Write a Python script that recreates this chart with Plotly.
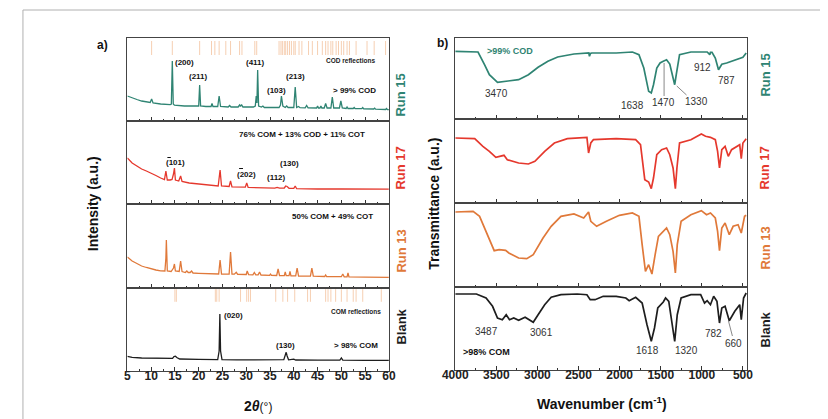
import plotly.graph_objects as go

# ---------------- DATA ----------------
# XRD (left, 2theta in degrees; intensity in arbitrary units)
xrd_run15_x = [5, 6, 7, 8, 9, 9.8, 10.1, 10.4, 12, 14.0, 14.25, 14.45, 14.65, 14.9, 17, 19.8, 20.0, 20.2, 20.4, 21.5,
               22.6, 22.8, 23.0, 24.0, 24.3, 24.6, 26.2, 26.5, 26.8, 28.3, 28.6, 28.8, 29.0, 29.3, 31.5, 31.9, 32.1,
               32.25, 32.4, 32.6, 33.2, 33.5, 33.8, 36.9, 37.2, 37.4, 37.7, 38.2, 38.5, 38.8, 40.0, 40.3, 40.6, 41.0,
               41.3, 42.4, 42.7, 43.0, 44.8, 45.0, 45.2, 45.5, 45.7, 45.9, 46.4, 46.7, 47.0, 47.8, 48.1, 48.4, 49.6,
               49.9, 50.2, 51.0, 51.2, 51.4, 52.5, 52.7, 52.9, 54.3, 54.5, 54.7, 56.8, 57.0, 57.2, 59.3, 59.5, 59.7, 60]
xrd_run15_y = [25, 23, 21.5, 20, 19, 18.5, 22, 18, 17, 16.3, 17, 60, 17, 15.8, 15, 14.7, 15, 36, 15, 14.5,
               14.5, 17.5, 14.5, 14.5, 25, 14.5, 14, 15.5, 14, 14, 16, 14.5, 16.5, 14, 14, 15, 25,
               18, 51, 15, 14, 15, 13.5, 13.5, 16, 25, 15, 13.5, 15, 13.5, 13.5, 34, 13.5, 14.5,
               13.3, 13.2, 15.5, 13.2, 13, 15, 13, 13, 15, 13, 13, 17.5, 13, 13, 24, 13, 13,
               20, 13, 12.5, 14, 12.5, 12.5, 13.5, 12.3, 12.3, 13.5, 12.2, 12, 12.8, 11.8, 11.5, 12.5, 11.3, 11.3]

xrd_run17_x = [5, 5.5, 6, 7, 8, 9, 10, 11, 12, 12.8, 13.1, 13.4, 14.0, 14.4, 14.7, 14.9, 15.1, 15.8, 16.2, 16.5,
               18, 20, 22, 24.1, 24.4, 24.5, 24.8, 26.4, 26.7, 27.0, 29.8, 30.1, 30.4, 33, 36.0, 36.5, 37.0, 38.0,
               38.3, 38.6, 39.0, 40.0, 40.3, 40.6, 43, 45, 50, 55, 60]
xrd_run17_y = [46, 43, 41, 38, 35, 33, 31, 28.5, 26, 24.5, 33, 24, 24, 24.5, 30, 36, 24, 23, 28, 22.5,
               21, 20, 19, 18, 30, 34, 18, 17.5, 23, 17.2, 16.8, 21, 16.6, 16.2, 15.8, 16.5, 15.8, 16,
               18, 17.5, 15.7, 15.6, 18, 15.3, 15, 15, 15, 14.8, 14.8]

xrd_run13_x = [5, 5.5, 6, 7, 8, 9, 10, 11, 12, 12.9, 13.1, 13.2, 13.4, 14.2, 14.7, 14.9, 15.1, 15.9, 16.2, 16.5,
               17.2, 17.5, 17.8, 18.2, 18.5, 18.8, 20, 22, 24.2, 24.5, 24.8, 26.4, 26.7, 27.0, 27.5, 27.9, 28.2,
               30.0, 30.2, 30.5, 31.4, 31.7, 32.0, 32.5, 32.8, 33.1, 34.9, 35.1, 35.3, 36.4, 36.7, 37.0, 38.0,
               38.2, 38.4, 39.0, 39.2, 39.4, 40.4, 40.7, 41.0, 43.5, 43.8, 44.1, 46.5, 46.7, 46.9, 50.0, 50.3,
               50.6, 51.2, 51.4, 51.6, 55, 60]
xrd_run13_y = [31, 28.5, 27, 24.5, 22, 20.5, 19, 18, 17.2, 17, 30, 48, 17, 16.5, 20, 24, 17, 16.5, 27, 16.5,
               15.5, 17, 15.5, 15.5, 17, 15, 14.7, 14.3, 14, 28, 14, 13.8, 36, 13.8, 13.8, 15.7, 13.6,
               13.5, 17, 13.3, 13.2, 15.5, 13.2, 13.2, 16, 13, 12.7, 14, 12.7, 12.5, 19, 12.5, 12.3,
               16, 12.3, 12.3, 16.5, 12.2, 12.2, 20, 12, 11.8, 20, 11.8, 11.5, 13, 11.5, 11.3, 14,
               11.2, 11.2, 15, 11.1, 10.8, 10.6]

xrd_blank_x = [5, 6, 8, 10, 12, 14.5, 14.8, 15.1, 15.4, 16, 20, 24.0, 24.3, 24.45, 24.6, 24.9, 28, 30.1, 30.5, 31,
               31.5, 37.9, 38.2, 38.4, 38.6, 38.9, 40.0, 40.4, 45, 49.7, 50.0, 50.3, 55, 60]
xrd_blank_y = [14.7, 13.7, 13, 12.7, 12.4, 12.6, 14.5, 14.8, 13.5, 12, 11.6, 11.4, 20, 57, 20, 11.3, 11.2, 11.6, 11.2, 11.5,
               11.2, 11.3, 15, 18.7, 15, 11.2, 11.8, 11, 10.8, 10.9, 13, 10.8, 10.7, 10.7]

cod_reflections = [10.1, 14.45, 20.2, 22.7, 23.4, 24.3, 25.7, 26.7, 28.6, 29.1, 31.8, 32.2, 36.9, 37.3, 37.6, 38.0,
                   38.3, 38.7, 39.1, 39.5, 40.0, 40.3, 41.1, 41.7, 43.1, 43.9, 45.0, 46.0, 46.7, 47.2, 47.8, 48.2,
                   48.9, 49.4, 50.0, 50.5, 51.2, 51.7, 53.1, 55.4, 56.9, 59.3]
com_reflections = [15.0, 15.3, 23.5, 23.8, 24.3, 28.8, 30.1, 30.5, 30.9, 36.2, 37.7, 38.7, 40.2, 42.9, 43.5, 46.7,
                   47.2, 47.8, 48.8, 50.0, 51.2, 52.5, 53.1, 54.5, 58.4]

# FTIR (right, wavenumber in cm-1; transmittance in arbitrary units)
ftir_run15_x = [4000, 3723, 3644, 3585, 3486, 3387, 3229, 3110, 2992, 2873, 2754, 2556, 2398, 2375, 2367, 2355,
                2339, 2042, 1845, 1765, 1706, 1647, 1615, 1588, 1548, 1508, 1469, 1429, 1390, 1358, 1330, 1311,
                1271, 1133, 935, 903, 895, 876, 836, 797, 757, 698, 638, 599, 559, 500, 460]
ftir_run15_y = [67.7, 67, 54.3, 44.3, 36.7, 37.7, 39.3, 44.3, 51.7, 57.7, 62, 65, 66, 66, 62.7, 65.5,
                66, 66, 67, 64.3, 51, 27.7, 26, 34.3, 51, 56, 57.7, 59.3, 55, 44.3, 34.3, 44.3,
                64.3, 67, 67, 64.3, 66.7, 66.7, 61, 49.3, 54.7, 56, 57.7, 58.3, 59.3, 61.7, 66]

ftir_run17_x = [4000, 3763, 3664, 3585, 3506, 3407, 3367, 3229, 3110, 3031, 2912, 2794, 2636, 2398, 2378, 2351,
                2319, 2042, 1805, 1746, 1694, 1647, 1615, 1588, 1548, 1489, 1429, 1390, 1350, 1322, 1303, 1271,
                1133, 1006, 955, 895, 836, 808, 785, 757, 717, 678, 638, 579, 539, 520, 500, 460]
ftir_run17_y = [65, 64.3, 56.7, 51.7, 45.7, 47.7, 43.3, 40, 39, 41.7, 51.7, 60, 64.3, 65.7, 50, 60,
                63.3, 64.3, 63.3, 58.3, 23.3, 21, 14.3, 25, 48.3, 53.3, 55, 48.3, 35, 14.3, 35, 60,
                63.3, 69, 66.7, 65.7, 63.3, 51.7, 35, 53.3, 56.7, 46.7, 53.3, 56.7, 58.3, 44.3, 60, 64.3]

ftir_run13_x = [4000, 3783, 3704, 3644, 3585, 3526, 3466, 3387, 3348, 3229, 3130, 3051, 2932, 2833, 2714, 2556,
                2437, 2378, 2351, 2280, 2161, 2003, 1845, 1765, 1726, 1686, 1647, 1607, 1568, 1528, 1429, 1390,
                1350, 1322, 1299, 1252, 1133, 1006, 943, 895, 836, 808, 785, 757, 717, 666, 619, 559, 520, 480, 460]
ftir_run13_y = [75, 75.7, 70.7, 59, 47.3, 36.3, 37.3, 36.7, 34, 29, 28.3, 32.3, 49, 60.7, 70.7, 73,
                69, 75, 65.7, 60.7, 65.7, 71.7, 74, 70.7, 42.3, 15.7, 22.3, 13, 32.3, 50.7, 59, 52.3,
                35.7, 14, 42.3, 65.7, 72.3, 76.3, 72.3, 74, 69, 55.7, 36.3, 59, 64, 52.3, 60.7, 62.3, 54, 70.7, 71.7]

ftir_blank_x = [4000, 3743, 3625, 3546, 3486, 3427, 3380, 3340, 3288, 3229, 3150, 3051, 2992, 2912, 2833, 2714,
                2516, 2398, 2358, 2299, 2200, 2042, 1924, 1884, 1805, 1726, 1667, 1615, 1576, 1536, 1469, 1441,
                1402, 1362, 1330, 1299, 1252, 1133, 1014, 967, 935, 895, 856, 816, 785, 757, 717, 666, 599, 539,
                520, 492, 460]
ftir_blank_y = [76, 76, 72, 63.7, 52, 50.3, 55.3, 50.3, 52, 49.7, 52.7, 47.7, 55.3, 65.3, 72.7, 75.3,
                76, 75.3, 70.3, 70.3, 73.7, 73.7, 72, 69.3, 72.7, 67, 45.3, 28.7, 42, 62, 68, 72,
                68.7, 45.3, 28.7, 55.3, 72, 75.3, 75.3, 67, 69.3, 65.3, 73.7, 68.7, 47, 62, 63.7, 49.3, 58.7, 65.3,
                50.3, 72, 77]

run_names = ["Run 15", "Run 17", "Run 13", "Blank"]
left_ticks = [5, 10, 15, 20, 25, 30, 35, 40, 45, 50, 55, 60]
right_ticks = [4000, 3500, 3000, 2500, 2000, 1500, 1000, 500]

# ---------------- STYLE / LAYOUT ----------------
W, H = 828, 419
FONT = "Arial, 'Liberation Sans', sans-serif"
TEAL, RED, ORANGE, BLACK = "#2f8473", "#e5382d", "#e0793a", "#1e1e1e"
colors = [TEAL, RED, ORANGE, BLACK]
TICKCOL = "#f6cfb2"


def fx(p):
    return p / W


def fy(p):
    return 1 - p / H


left_x = (109, 377)
right_x = (445, 744)
left_rows = [(30, 113), (113, 196), (196, 280), (280, 363)]
right_rows = [(30, 111), (111, 195), (195, 279), (279, 362)]

fig = go.Figure()

xrd_sets = [(xrd_run15_x, xrd_run15_y), (xrd_run17_x, xrd_run17_y),
            (xrd_run13_x, xrd_run13_y), (xrd_blank_x, xrd_blank_y)]
ftir_sets = [(ftir_run15_x, ftir_run15_y), (ftir_run17_x, ftir_run17_y),
             (ftir_run13_x, ftir_run13_y), (ftir_blank_x, ftir_blank_y)]

tickfont = dict(family=FONT, size=12, color="#222", weight="bold")

layout = {}
for i in range(4):
    # left
    n = i + 1
    xs, ys = xrd_sets[i]
    fig.add_trace(go.Scatter(x=xs, y=ys, mode="lines", line=dict(color=colors[i], width=1.3),
                             xaxis=f"x{n}", yaxis=f"y{n}", showlegend=False, hoverinfo="skip"))
    top, bot = left_rows[i]
    layout[f"xaxis{n}"] = dict(domain=[fx(left_x[0]), fx(left_x[1])], anchor=f"y{n}", range=[5, 60],
                               tickvals=left_ticks, ticks="inside", ticklen=4, tickwidth=1, tickcolor="#333",
                               showticklabels=(i == 3), showgrid=False, zeroline=False,
                               showline=True, linecolor="#444", linewidth=1, mirror=True,
                               minor=dict(dtick=2.5, tick0=5, ticks="inside", ticklen=2.5, tickcolor="#333",
                                          showgrid=False),
                               tickfont=tickfont, ticklabelstandoff=-6)
    layout[f"yaxis{n}"] = dict(domain=[fy(bot), fy(top)], anchor=f"x{n}", range=[0, bot - top],
                               showticklabels=False, ticks="", showgrid=False, zeroline=False,
                               showline=True, linecolor="#444", linewidth=1, mirror=True)
    # right
    m = i + 5
    xs, ys = ftir_sets[i]
    fig.add_trace(go.Scatter(x=xs, y=ys, mode="lines", line=dict(color=colors[i], width=1.7),
                             xaxis=f"x{m}", yaxis=f"y{m}", showlegend=False, hoverinfo="skip"))
    top, bot = right_rows[i]
    layout[f"xaxis{m}"] = dict(domain=[fx(right_x[0]), fx(right_x[1])], anchor=f"y{m}", range=[4000, 450],
                               tickvals=right_ticks, ticks="inside", ticklen=4, tickwidth=1, tickcolor="#333",
                               showticklabels=(i == 3), showgrid=False, zeroline=False,
                               showline=True, linecolor="#444", linewidth=1, mirror=True,
                               minor=dict(dtick=250, tick0=500, ticks="inside", ticklen=2.5, tickcolor="#333",
                                          showgrid=False),
                               tickfont=tickfont, ticklabelstandoff=-6)
    layout[f"yaxis{m}"] = dict(domain=[fy(bot), fy(top)], anchor=f"x{m}", range=[0, bot - top],
                               showticklabels=False, ticks="", showgrid=False, zeroline=False,
                               showline=True, linecolor="#444", linewidth=1, mirror=True)

# reflection markers
fig.add_trace(go.Scatter(x=cod_reflections, y=[73] * len(cod_reflections), mode="markers",
                         marker=dict(symbol="line-ns", size=10, line=dict(color=TICKCOL, width=1)),
                         xaxis="x1", yaxis="y1", showlegend=False, hoverinfo="skip"))
fig.add_trace(go.Scatter(x=com_reflections, y=[75.5] * len(com_reflections), mode="markers",
                         marker=dict(symbol="line-ns", size=9, line=dict(color=TICKCOL, width=1)),
                         xaxis="x4", yaxis="y4", showlegend=False, hoverinfo="skip"))

ann = []


def text(x, y, s, size=9, color="#222", bold=False, angle=0, xanchor="center"):
    ann.append(dict(x=fx(x), y=fy(y), xref="paper", yref="paper", text=(f"<b>{s}</b>" if bold else s),
                    showarrow=False, textangle=angle, xanchor=xanchor, yanchor="middle",
                    font=dict(family=FONT, size=size, color=color)))


# panel labels
text(84, 37, "a)", 12, "#111", True)
text(432, 35, "b)", 12, "#111", True)
# axis titles
text(74, 196, "Intensity (a.u.)", 14, "#111", True, -90)
text(423, 196, "Transmittance (a.u.)", 14, "#111", True, -90)
text(243, 398, "<b>2<i>θ</i></b><span style='font-size:12px'>(°)</span>", 14, "#111")
text(595, 395, "Wavenumber (cm<sup>-1</sup>)", 14, "#111", True)
# run labels
left_centres = [87, 160, 243, 319]
right_centres = [67, 160, 240, 322]
for i in range(4):
    text(389, left_centres[i], run_names[i], 13, colors[i], True, -90)
    text(762, right_centres[i], run_names[i], 13, colors[i], True, -90)

# XRD labels
text(338, 53, "COD reflections", 6.5, "#222", True)
text(342, 82, "&gt; 99% COD", 8, "#111", True)
text(168, 54, "(200)", 8, "#111", True)
text(182, 68, "(211)", 8, "#111", True)
text(240, 55, "(411)", 8, "#111", True)
text(262, 82, "(103)", 8, "#111", True)
text(281, 68, "(213)", 8, "#111", True)
text(288, 126, "76% COM + 13% COD + 11% COT", 8, "#111", True)
text(158, 154.5, "(101)", 8, "#111", True)
text(231, 166, "(202)", 8, "#111", True)
text(262, 169, "(112)", 8, "#111", True)
text(275, 156, "(130)", 8, "#111", True)
text(319, 208, "50% COM + 49% COT", 8, "#111", True)
text(218, 307, "(020)", 8, "#111", True)
text(343, 303, "COM reflections", 6.5, "#222", True)
text(271, 337, "(130)", 8, "#111", True)
text(343, 337, "&gt; 98% COM", 8, "#111", True)

# FTIR labels
text(501, 43, "&gt;99% COD", 9, TEAL, True)
text(487, 85, "3470", 10, "#333")
text(627, 97, "1638", 10, "#333")
text(658, 94, "1470", 10, "#333")
text(692, 93, "1330", 10, "#333")
text(698, 59, "912", 10, "#333")
text(723, 72, "787", 10, "#333")
text(477, 323, "3487", 10, "#333")
text(533, 324, "3061", 10, "#333")
text(642, 342, "1618", 10, "#333")
text(682, 342, "1320", 10, "#333")
text(710, 325, "782", 10, "#333")
text(730, 335, "660", 10, "#333")
text(477, 344, "&gt;98% COM", 9, "#111", True)


def seg(x0, y0, x1, y1, color="#888", w=1):
    return dict(type="line", xref="paper", yref="paper", x0=fx(x0), y0=fy(y0), x1=fx(x1), y1=fy(y1),
                line=dict(color=color, width=w))


shapes = [
    seg(659, 55, 659, 88),
    seg(672, 78, 682, 87),
    seg(725, 313, 729, 328),
    # overbars of the negative Miller indices
    seg(150, 149.5, 153.5, 149.5, "#111", 1),
    seg(223.5, 160.5, 227.5, 160.5, "#111", 1),
    dict(type="rect", xref="paper", yref="paper", x0=fx(2), y0=fy(2), x1=fx(826), y1=fy(416),
         line=dict(color="#b0b0b0", width=1)),
]

fig.update_layout(width=W, height=H, margin=dict(l=0, r=0, t=0, b=0), paper_bgcolor="white",
                  plot_bgcolor="white", annotations=ann, shapes=shapes, **layout)

fig.write_html("out.html")
